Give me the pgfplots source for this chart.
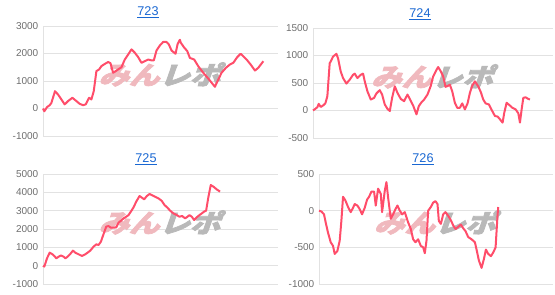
\documentclass[border=0pt]{standalone}
\usepackage{fontspec}
\setmainfont{Liberation Sans}
\newfontfamily\cjk{Noto Sans CJK JP}[FakeBold=3]
\usepackage{pgfplots}
\pgfplotsset{compat=1.18}
\definecolor{linec}{RGB}{255,77,106}
\definecolor{titlec}{RGB}{25,103,210}
\definecolor{tickc}{RGB}{110,110,110}
\definecolor{gridc}{RGB}{226,226,226}
\definecolor{wmpink}{RGB}{240,185,190}
\definecolor{wmgrey}{RGB}{185,185,185}
\newcommand{\wm}{\node[inner sep=0pt,xslant=0.35,xscale=1.2,font=\cjk\bfseries\fontsize{19}{19}\selectfont] at (rel axis cs:0.51,0.56) {\textcolor{wmpink}{みん}\textcolor{wmgrey}{レポ}};}
\pgfplotsset{
  panel/.style={
    scale only axis,
    anchor=south west,
    height=82.5pt,
    axis x line=none,
    axis y line*=left,
    y axis line style={draw=gridc},
    ymajorgrids,
    major grid style={draw=gridc,line width=0.6pt},
    ytick style={draw=none},
    xtick=\empty,
    yticklabel style={font=\fontsize{7.5}{8}\selectfont,text=tickc},
    /pgf/number format/assume math mode=true,
    /pgf/number format/1000 sep={},
    extra y ticks={0},
    extra y tick labels={},
    extra y tick style={grid style={draw=gray!55,line width=0.6pt}},
    clip=false,
  },
  ser/.style={color=linec,line width=1.5pt,no marks,line join=round},
}
\begin{document}
\begin{tikzpicture}
\useasboundingbox (0,0) rectangle (416.25pt,220.5pt);
% ---------------- 723
\begin{axis}[panel,at={(32.25pt,118.5pt)},width=176.25pt,
  xmin=130,xmax=834,ymin=-1000,ymax=3000,ytick={-1000,0,1000,2000,3000}]
\wm
\addplot[ser] coordinates {
(130,0)(134,-100)(142,50)(150,120)(155,200)(166,630)(175,510)(185,330)(195,150)
(205,270)(218,390)(230,270)(240,170)(250,120)(258,150)(268,390)(275,330)(282,630)
(290,1360)(298,1420)(305,1540)(315,1620)(325,1690)(332,1650)(340,1300)(348,1360)
(355,1420)(365,1500)(375,1780)(385,1960)(395,2150)(405,2030)(415,1870)(425,1660)
(435,1720)(445,1780)(455,1750)(462,1750)(470,2110)(480,2290)(490,2420)(500,2420)
(507,2330)(515,2110)(527,1990)(533,2330)(540,2500)(543,2390)(552,2230)(562,2090)
(570,1840)(583,1780)(595,1540)(610,1300)(625,1090)(645,790)(655,1050)(665,1300)
(678,1480)(690,1600)(700,1660)(712,1870)(722,1990)(730,1900)(740,1780)(752,1600)
(765,1380)(775,1480)(790,1720)
};
\end{axis}
% ---------------- 724
\begin{axis}[panel,at={(234.75pt,117pt)},width=180pt,
  xmin=115,xmax=834,ymin=-500,ymax=1500,ytick={-500,0,500,1000,1500}]
\wm
\addplot[ser] coordinates {
(115,0)(122,30)(128,60)(132,120)(138,65)(145,90)(152,130)(158,260)(165,860)
(168,890)(175,980)(185,1030)(190,950)(198,710)(205,590)(215,490)(225,560)(235,650)
(240,670)(248,590)(258,650)(265,670)(270,530)(278,350)(288,200)(298,230)(305,310)
(315,370)(322,290)(330,110)(338,30)(345,-10)(352,230)(360,440)(368,320)(378,210)
(388,170)(398,290)(405,210)(415,90)(425,-70)(432,80)(440,150)(448,200)(458,290)
(468,450)(475,620)(485,740)(490,790)(498,710)(505,620)(512,430)(520,450)(525,470)
(532,350)(540,140)(547,50)(555,50)(562,130)(570,20)(578,130)(585,320)(592,450)
(600,530)(610,440)(618,330)(625,200)(632,130)(642,110)(652,-10)(660,-100)(668,-110)
(675,-160)(683,-220)(688,-40)(695,140)(705,90)(712,50)(722,20)(730,-50)(735,-220)
(740,20)(745,230)(752,240)(760,210)(765,200)
};
\end{axis}
% ---------------- 725
\begin{axis}[panel,at={(32.25pt,7.5pt)},width=176.25pt,
  xmin=128,xmax=834,ymin=-1000,ymax=5000,ytick={-1000,0,1000,2000,3000,4000,5000}]
\wm
\addplot[ser] coordinates {
(128,0)(132,-50)(140,400)(148,710)(155,640)(162,530)(168,400)(175,490)(182,560)
(190,490)(195,400)(202,490)(210,640)(218,820)(225,710)(235,620)(245,530)(255,620)
(262,710)(270,820)(280,1040)(288,1160)(295,1130)(302,1310)(310,1730)(318,2130)
(325,2160)(332,2070)(340,2070)(348,2090)(355,2350)(362,2450)(370,2580)(378,2670)
(385,2760)(392,2950)(400,3180)(408,3490)(418,3800)(425,3710)(432,3620)(440,3800)
(448,3910)(455,3850)(465,3760)(475,3670)(485,3530)(493,3310)(502,3160)(510,3000)
(520,2850)(530,2760)(538,2670)(546,2710)(555,2580)(562,2670)(568,2760)(575,2670)
(582,2490)(590,2640)(598,2760)(605,2850)(612,2950)(618,3000)(625,3760)(632,4400)
(640,4310)(650,4160)(660,4040)
};
\end{axis}
% ---------------- 726
\begin{axis}[panel,at={(239.25pt,7.5pt)},width=175.5pt,
  xmin=133,xmax=834,ymin=-1000,ymax=500,ytick={-1000,-500,0,500}]
\wm
\addplot[ser] coordinates {
(133,0)(140,-10)(148,-50)(153,-160)(160,-300)(168,-430)(175,-480)(180,-590)(188,-550)
(195,-410)(200,-140)(205,190)(212,140)(220,50)(228,-20)(235,40)(240,90)(248,70)
(255,20)(262,-50)(270,40)(277,150)(283,190)(290,260)(298,260)(303,70)(310,300)
(318,230)(322,-20)(330,270)(335,390)(340,180)(348,-110)(355,-50)(362,20)(368,70)
(375,0)(382,-50)(390,-20)(400,-160)(408,-250)(415,-390)(422,-430)(430,-390)(438,-480)
(445,-500)(450,-580)(455,-410)(460,0)(468,50)(475,110)(482,130)(488,90)(492,-140)
(498,-180)(505,-50)(512,-20)(520,-70)(528,-130)(535,-200)(542,-250)(550,-220)(558,-190)
(565,-240)(572,-280)(580,-360)(590,-390)(600,-430)(605,-530)(612,-680)(620,-780)
(627,-660)(633,-530)(640,-590)(648,-620)(655,-570)(662,-500)(668,-50)(670,50)
};
\end{axis}
% titles
\node[text=titlec,font=\fontsize{9.5}{10}\selectfont] at (111pt,211pt) {\underline{723}};
\node[text=titlec,font=\fontsize{9.5}{10}\selectfont] at (315pt,209.5pt) {\underline{724}};
\node[text=titlec,font=\fontsize{9.5}{10}\selectfont] at (109.5pt,101pt) {\underline{725}};
\node[text=titlec,font=\fontsize{9.5}{10}\selectfont] at (317.25pt,101pt) {\underline{726}};
\end{tikzpicture}
\end{document}
